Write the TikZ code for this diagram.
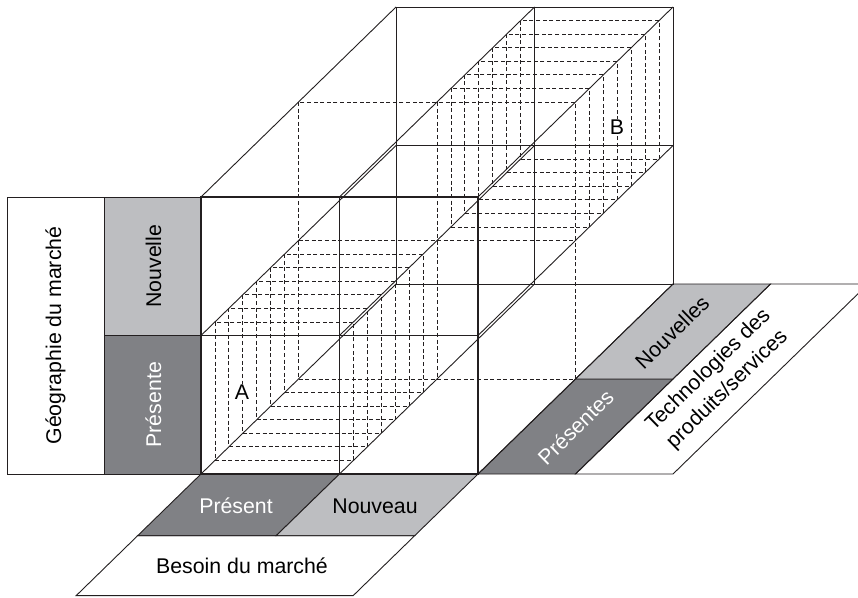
\documentclass[tikz,border=0pt]{standalone}
\usepackage{fontspec}
\setmainfont{Liberation Sans}
\definecolor{dk}{HTML}{808185}
\definecolor{lt}{HTML}{BDBEC1}
\definecolor{ln}{HTML}{231F20}
\begin{document}
\begin{tikzpicture}[x=1pt,y=-1pt,
  ln/.style={draw=ln, line width=0.9pt},
  fr/.style={draw=ln, line width=1.3pt},
  hid/.style={draw=ln, line width=0.8pt, dash pattern=on 4pt off 2.6pt},
  lbl/.style={font=\fontsize{21.3}{27}\selectfont, inner sep=1pt}]
\path[use as bounding box, fill=white] (0,0) rectangle (858,597);
% left labels
\path[fill=lt, ln] (104,197) rectangle (201,335.5);
\path[fill=dk, ln] (104,335.5) rectangle (201,474);
\draw[ln] (7,197) rectangle (104,474);
% bottom strips
\path[fill=dk, ln] (201,474) -- (339.5,474) -- (276.1,535.75) -- (137.6,535.75) -- cycle;
\path[fill=lt, ln] (339.5,474) -- (478,474) -- (414.6,535.75) -- (276.1,535.75) -- cycle;
\path[ln] (137.6,535.75) -- (414.6,535.75) -- (353.2,595.6) -- (76.2,595.6) -- cycle;
% right strips
\path[fill=dk, ln] (478,474) -- (575.5,474) -- (673,379) -- (575.5,379) -- cycle;
\path[fill=lt, ln] (575.5,379) -- (673,379) -- (770.5,284) -- (673,284) -- cycle;
\path[ln] (575.5,474) -- (673,474) -- (868,284) -- (770.5,284) -- cycle;
% hidden mid plane
\draw[hid] (298.5,102) rectangle (575.5,379);
\draw[hid] (437,102) -- (437,379);
\draw[hid] (298.5,240.5) -- (575.5,240.5);
% layers of A and B
\foreach \k in {1,...,6}{
  \draw[hid] ({201+13.93*\k},{335.5-13.57*\k}) rectangle ({339.5+13.93*\k},{474-13.57*\k});
  \draw[hid] ({437+13.93*\k},{102-13.57*\k}) rectangle ({575.5+13.93*\k},{240.5-13.57*\k});
}
% back face
\draw[ln] (396,7) rectangle (673,284);
\draw[ln] (534.5,7) -- (534.5,284);
\draw[ln] (396,145.5) -- (673,145.5);
% depth edges
\foreach \i in {0,1,2}{
  \foreach \j in {0,1,2}{
    \draw[ln] ({201+138.5*\i},{474-138.5*\j}) -- ++(195,-190);
  }
}
% front face
\draw[ln, line width=1pt] (339.5,197) -- (339.5,474);
\draw[ln, line width=1pt] (201,335.5) -- (478,335.5);
\draw[fr] (201,197) rectangle (478,474);
% texts
\node[lbl, rotate=90] (geo) at (55.5,335.5) {Géographie du marché};
\node[lbl, rotate=90] (nv) at (153.5,266.25) {Nouvelle};
\node[lbl, rotate=90, text=white] (pr) at (153.5,404.75) {Présente};
\node[lbl, text=white] (pt) at (236,506) {Présent};
\node[lbl] (nx) at (375,506) {Nouveau};
\node[lbl] (bm) at (242,566) {Besoin du marché};
\node[lbl, rotate=44.3, text=white] (ps) at (575.5,427) {Présentes};
\node[lbl, rotate=44.3] (ns) at (672,332) {Nouvelles};
\node[lbl, rotate=44.3, align=center] (tp) at (718,380) {Technologies des\\produits/services};
\node[lbl, fill=white, inner sep=0.5pt] (a) at (242,392) {A};
\node[lbl, fill=white, inner sep=0.5pt] (b) at (617,127) {B};
\end{tikzpicture}
\end{document}
